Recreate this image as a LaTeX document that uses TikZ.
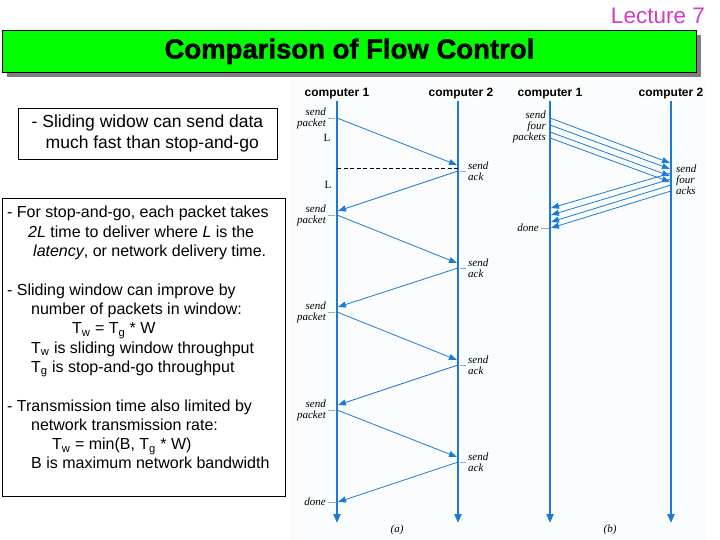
\documentclass[tikz,border=0pt]{standalone}
\usepackage{fontspec}
\setmainfont{Liberation Serif}
\setsansfont{Liberation Sans}
\newfontfamily\titlefont[FakeBold=1.5]{Liberation Sans Bold}
\usetikzlibrary{arrows.meta,positioning}
\definecolor{titlegreen}{RGB}{0,255,0}
\definecolor{shadowgray}{RGB}{128,128,128}
\definecolor{lifeblue}{RGB}{28,122,214}
\definecolor{lecturepink}{RGB}{214,58,196}
\definecolor{panelbg}{RGB}{250,252,254}
\newcommand{\bodyfont}{\sffamily\fontsize{16}{19.3}\selectfont}
\newcommand{\evfont}{\itshape\fontsize{11}{10.8}\selectfont}
\tikzset{
  lifeline/.style={draw=lifeblue,line width=2pt,-{Triangle[width=7pt,length=9pt]}},
  msgline/.style={draw=lifeblue,line width=0.8pt,-{Triangle[width=6pt,length=8pt]}},
  hostlabel/.style={font=\sffamily\bfseries\fontsize{12}{12}\selectfont,inner sep=1pt},
  evleft/.style={font=\evfont,align=right,anchor=east,inner sep=0pt},
  evright/.style={font=\evfont,align=left,anchor=west,inner sep=0pt},
  evtick/.style={draw=gray!70,line width=0.5pt},
  bodytext/.style={font=\bodyfont,anchor=base west,inner sep=0pt},
  notebox/.style={draw,line width=0.8pt}
}

\begin{document}
\begin{tikzpicture}[x=1pt,y=-1pt]
\useasboundingbox (0,0) rectangle (720,540);
% header
\node[font=\sffamily\fontsize{22.5}{24}\selectfont,text=lecturepink,anchor=base east,inner sep=0pt] (lecture) at (705,24) {Lecture 7};
\fill[shadowgray] (7,35) rectangle (701,77);
\node[notebox,fill=titlegreen,anchor=north west,minimum width=694pt,minimum height=42pt,
  font=\titlefont\fontsize{27.5}{27.5}\selectfont] (title) at (2,30) {Comparison of Flow Control};
% notes on the left
\node[notebox,minimum width=259pt,minimum height=51pt,align=left,
  font=\sffamily\fontsize{17.5}{21}\selectfont] (fastbox) at (147.5,133.5)
  {- Sliding widow can send data\\\hspace*{14pt}much fast than stop-and-go};
\node[notebox,anchor=north west,minimum width=283pt,minimum height=298pt] (notes) at (2,198) {};
\foreach \x/\k/\t [count=\i] in {
  7/0/{- For stop-and-go, each packet takes},
  28/1/{\textit{2L} time to deliver where \textit{L} is the},
  33/2/{\textit{latency}, or network delivery time.},
  7/4/{- Sliding window can improve by},
  31/5/{number of packets in window:},
  72/6/{T\textsubscript{w} = T\textsubscript{g} * W},
  31/7/{T\textsubscript{w} is sliding window throughput},
  31/8/{T\textsubscript{g} is stop-and-go throughput},
  7/10/{- Transmission time also limited by},
  31/11/{network transmission rate:},
  52/12/{T\textsubscript{w} = min(B, T\textsubscript{g} * W)},
  31/13/{B is maximum network bandwidth}}
  \node[bodytext] (note\i) at (\x,{218+19.3*\k}) {\t};
% timing diagrams
\fill[panelbg] (290,80) rectangle (706,540);
% (a) stop-and-go
\node[hostlabel] (a1) at (337,94) {computer 1};
\node[hostlabel] (a2) at (461,94) {computer 2};
\coordinate (a1end) at (337,523);
\coordinate (a2end) at (458,523);
\draw[lifeline] (a1end |- a1.south) -- (a1end);
\draw[lifeline] (a2end |- a2.south) -- (a2end);
\foreach \ys/\ye [count=\i] in {118/165,215/263,312/360,410/457} {
  \coordinate (apk\i) at (337,\ys);
  \coordinate (apkend\i) at (457,\ye);
  \draw[msgline] (apk\i) -- (apkend\i);
  \node[evleft] (apklbl\i) at (326,\ys) {send\\packet};
  \draw[evtick] ([xshift=2pt]apklbl\i.east) -- ([xshift=-2pt]apk\i);
}
\foreach \ys/\ye [count=\i] in {171/211,268/307,365/405,462/502} {
  \coordinate (aack\i) at (458,\ys);
  \coordinate (aackend\i) at (338,\ye);
  \draw[msgline] (aack\i) -- (aackend\i);
  \node[evright] (aacklbl\i) at (468,\ys) {send\\ack};
  \draw[evtick] ([xshift=2pt]aack\i) -- ([xshift=-2pt]aacklbl\i.west);
}
\node[evleft] (adone) at (326,502) {done};
\draw[evtick] ([xshift=2pt]adone.east) -- ([xshift=-2pt]aackend4);
\coordinate (dashl) at (337,168);
\coordinate (dashr) at (458,168);
\draw[dash pattern=on 4pt off 2.5pt,line width=0.7pt] (dashl) -- (dashr);
\node[font=\fontsize{11}{11}\selectfont] (lat1) at (327,138) {L};
\node[font=\fontsize{11}{11}\selectfont] (lat2) at (328,185) {L};
\node[font=\evfont] (capa) at (397,530) {(a)};
% (b) sliding window
\node[hostlabel] (b1) at (550,94) {computer 1};
\node[hostlabel] (b2) at (671,94) {computer 2};
\coordinate (b1end) at (550,523);
\coordinate (b2end) at (671,523);
\draw[lifeline] (b1end |- b1.south) -- (b1end);
\draw[lifeline] (b2end |- b2.south) -- (b2end);
\foreach \ys/\ye [count=\i] in {118/163,125/169,132/176,138/182} {
  \coordinate (bpk\i) at (550,\ys);
  \coordinate (bpkend\i) at (670,\ye);
  \draw[msgline] (bpk\i) -- (bpkend\i);
}
\foreach \ys/\ye [count=\i] in {173/208,179/215,185/222,191/228} {
  \coordinate (back\i) at (671,\ys);
  \coordinate (backend\i) at (551,\ye);
  \draw[msgline] (back\i) -- (backend\i);
}
\node[evleft] (bpklbl) at (546,127) {send\\four\\packets};
\node[evright] (backlbl) at (676,180) {send\\four\\acks};
\node[evleft] (bdone) at (539,228) {done};
\draw[evtick] ([xshift=2pt]bdone.east) -- ([xshift=-2pt]backend4);
\node[font=\evfont] (capb) at (610,530) {(b)};
\end{tikzpicture}
\end{document}
